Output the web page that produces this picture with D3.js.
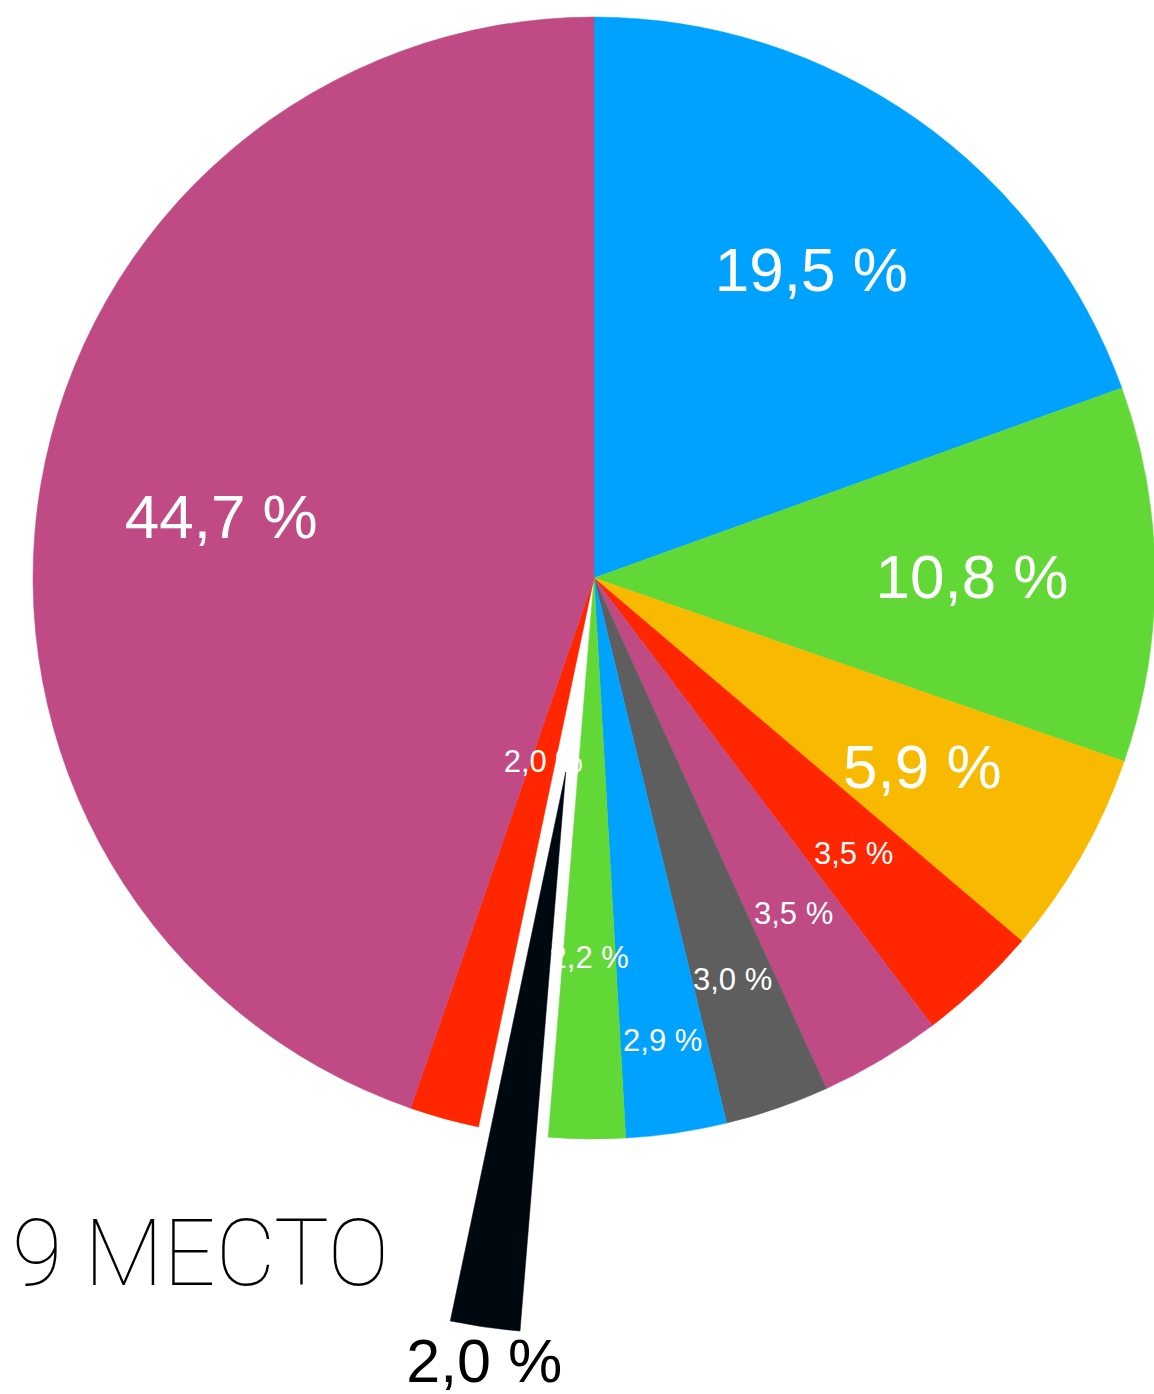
<!DOCTYPE html>
<html>
<head>
<meta charset="utf-8">
<script src="https://cdn.jsdelivr.net/npm/d3@7"></script>
<style>
    body { margin: 0; background: #fff; }
    svg { display: block; }
</style>
</head>
<body>
<svg id="chart"></svg>
<script>

// chart data, clockwise from 12 o'clock
var shares = [19.5, 10.8, 5.9, 3.5, 3.5, 3.0, 2.9, 2.2, 2.0, 2.0, 44.7];
var labels = ["19,5 %", "10,8 %", "5,9 %", "3,5 %", "3,5 %", "3,0 %", "2,9 %", "2,2 %", "2,0 %", "2,0 %", "44,7 %"];
var colors = ["#00A2FF", "#61D836", "#F8BA00", "#FF2600", "#C04A84", "#5E5E5E", "#00A2FF", "#61D836", "#000810", "#FF2600", "#C04A84"];
var highlightIndex = 8; // the pulled-out slice
var title = "9 МЕСТО";

// layout
var width = 1154, height = 1394;
var cx = 594, cy = 578, radius = 561;
var explode = 196;
// distance of each label from the centre (small slices are staggered)
var labelRadius = [378, 378, 378, 378, 390, 424, 467, 379, 790, 190, 378];
var bigSlice = 5; // slices above this share get the large font

var svg = d3.select("#chart")
    .attr("width", width)
    .attr("height", height);

var pie = d3.pie().sort(null).value(function (d) { return d; });
var arcs = pie(shares);

var arc = d3.arc().innerRadius(0).outerRadius(radius);

var g = svg.append("g").attr("transform", "translate(" + cx + "," + cy + ")");

function midAngle(d) { return (d.startAngle + d.endAngle) / 2; }
function fontSize(d, i) {
    if (i === highlightIndex) return 61;
    return d.data > bigSlice ? 62 : 31;
}

// slices
g.selectAll("path")
    .data(arcs)
    .enter()
    .append("path")
    .attr("d", arc)
    .attr("fill", function (d, i) { return colors[i]; })
    .attr("stroke", function (d, i) { return colors[i]; })
    .attr("stroke-width", 0.5)
    .attr("transform", function (d, i) {
        if (i !== highlightIndex) return null;
        var a = midAngle(d);
        return "translate(" + (Math.sin(a) * explode) + "," + (-Math.cos(a) * explode) + ")";
    });

// value labels
g.selectAll("text.value")
    .data(arcs)
    .enter()
    .append("text")
    .attr("class", "value")
    .text(function (d, i) { return labels[i]; })
    .attr("text-anchor", "middle")
    .attr("font-family", "'Liberation Sans', Arial, sans-serif")
    .attr("font-size", function (d, i) { return fontSize(d, i) + "px"; })
    .attr("fill", function (d, i) { return i === highlightIndex ? "#000" : "#fff"; })
    .attr("x", function (d, i) { return Math.sin(midAngle(d)) * labelRadius[i] + (i === highlightIndex ? 4 : 0); })
    .attr("y", function (d, i) {
        return -Math.cos(midAngle(d)) * labelRadius[i] + fontSize(d, i) * 0.36;
    });

// title
svg.append("text")
    .text(title)
    .attr("x", 12)
    .attr("y", 1285)
    .attr("font-family", "Roboto, 'Open Sans', sans-serif")
    .attr("font-weight", 100)
    .attr("font-size", "92px")
    .attr("fill", "#000");

</script>
</body>
</html>
